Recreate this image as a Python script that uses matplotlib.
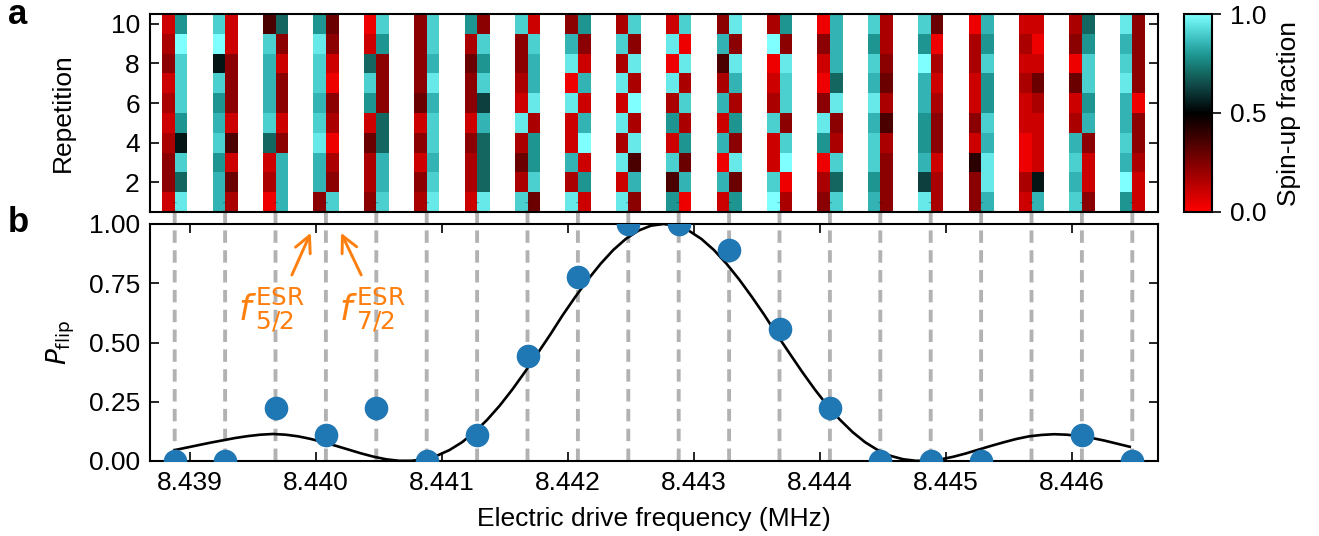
import numpy as np
import matplotlib
matplotlib.use('Agg')
import matplotlib.pyplot as plt
from matplotlib.colors import LinearSegmentedColormap
from matplotlib.patches import ConnectionPatch

plt.rcParams['font.family'] = ['Liberation Sans', 'DejaVu Sans']
plt.rcParams['axes.linewidth'] = 1.5

# drive frequencies (MHz), one per dashed line
drive_freq = [8.43888, 8.43928, 8.43968, 8.44008, 8.44048, 8.44088, 8.44128,
              8.44168, 8.44208, 8.44248, 8.44288, 8.44328, 8.44368, 8.44408,
              8.44448, 8.44488, 8.44528, 8.44568, 8.44608, 8.44648]
p_flip = [0, 0, 0.222, 0.111, 0.222, 0, 0.111, 0.444, 0.778, 1, 1, 0.889, 0.556,
          0.222, 0, 0, 0, np.nan, 0.111, 0]

# grey levels seen in the heatmap
spin_levels = {'R1': 0.033, 'R2': 0.10, 'R3': 0.167, 'R4': 0.228, 'R5': 0.29,
               'R6': 0.353, 'R7': 0.416,
               'C1': 1.0, 'C2': 0.955, 'C3': 0.906, 'C4': 0.851, 'C5': 0.792,
               'C6': 0.70, 'C7': 0.624, 'C8': 0.541}

# repetition 10 down to 1, left column of each pair
spin_left = [
    'R2 R3 R4 R2 R3 R2 R3 R4 R4 R2',
    'C3 C1 C8 C3 C5 C4 C3 C5 C4 C4',
    'R6 C3 C4 C4 C4 C3 C6 R2 R3 R1',
    'C5 C2 C3 C3 C4 C3 C2 C4 C4 R4',
    'R1 R2 C6 C3 C5 R2 R5 R3 R3 R4',
    'R4 R4 R4 R4 R5 R2 R4 R2 R4 R3',
    'C5 R3 R5 R4 R4 R2 R4 R3 R3 R2',
    'C3 R4 R4 R3 R2 C2 R3 R5 R3 C3',
    'R4 C4 C2 R1 C2 R2 R2 C4 R3 C2',
    'R3 C3 R3 C2 R2 C2 R3 C2 R2 C2',
    'R2 C2 R1 C2 R3 C5 R2 C3 R6 C5',
    'R4 C4 R6 R3 C4 R2 C4 R1 C4 R2',
    'R3 C1 R1 R2 R3 C3 R2 R2 C3 C1',
    'R1 R4 R2 R1 R4 C2 C5 R1 R3 R4',
    'C3 C5 C3 C4 C2 C4 C3 C3 C5 C4',
    'C3 C5 C1 C4 C4 C5 C5 C4 C7 C2',
    'R1 R3 R3 R2 R2 R4 R2 R7 R4 R4',
    'R2 R3 R2 R3 R2 R2 R1 R1 R3 R2',
    'R3 R4 R1 R5 R2 R3 C4 C3 C4 C3',
    'C2 C4 C3 C2 C4 C4 C3 C4 C1 C5',
]
# right column of each pair
spin_right = [
    'C5 C1 C3 C3 C3 C5 C8 C3 C6 C2',
    'R2 R2 R4 R4 R4 R2 R6 R2 R5 R3',
    'C6 R4 R2 R4 R4 R2 R4 C4 C4 C4',
    'R5 R4 R2 R1 R4 R3 R1 R3 R4 C3',
    'C3 C5 R4 R4 R4 C6 C6 C4 C4 C3',
    'C3 C3 C4 C2 C4 C3 C3 C4 C3 C2',
    'R4 C3 C5 C3 C7 C4 C6 C6 C6 C2',
    'R2 C3 C4 C4 C2 R3 C5 C5 C3 R5',
    'C5 R4 R2 C4 R2 C4 C1 R2 C5 R2',
    'C3 R4 C2 R3 C1 R3 C2 R6 C4 R4',
    'C3 R1 C2 R3 C3 R3 C5 R5 C4 R1',
    'C2 R4 C2 C4 R3 C5 R4 C2 R5 C5',
    'C5 R4 C2 C3 C3 R4 C3 C1 R1 R3',
    'C4 C4 C4 C6 C2 R4 R3 C3 C6 C3',
    'R3 R3 R4 R5 R3 R6 R3 R4 R4 R4',
    'R5 R1 R3 R2 R3 R4 R4 R2 R3 R3',
    'C4 C5 C3 C5 C5 C3 C4 C2 C2 C4',
    'R2 R1 R2 R5 R3 R2 R2 R2 C8 C4',
    'C6 C5 C3 C3 C5 C4 R4 R2 R2 R4',
    'R4 R4 R4 R4 R1 R4 R4 R3 R2 R2',
]

# fitted curve, 8.43888 to 8.44646 MHz, centre 8.44276
curve_freq = [8.43888, 8.43896, 8.43906, 8.43916, 8.43926, 8.43936, 8.43946, 8.43956,
              8.43966, 8.43976, 8.43986, 8.43996, 8.44006, 8.44016, 8.44026, 8.44036,
              8.44046, 8.44056, 8.44066, 8.44076, 8.44086, 8.44096, 8.44106, 8.44116,
              8.44126, 8.44136, 8.44146, 8.44156, 8.44166, 8.44176, 8.44186, 8.44196,
              8.44206, 8.44216, 8.44226, 8.44236, 8.44246, 8.44256, 8.44266, 8.44276,
              8.44286, 8.44296, 8.44306, 8.44316, 8.44326, 8.44336, 8.44346, 8.44356,
              8.44366, 8.44376, 8.44386, 8.44396, 8.44406, 8.44416, 8.44426, 8.44436,
              8.44446, 8.44456, 8.44466, 8.44476, 8.44486, 8.44496, 8.44506, 8.44516,
              8.44526, 8.44536, 8.44546, 8.44556, 8.44566, 8.44576, 8.44586, 8.44596,
              8.44606, 8.44616, 8.44626, 8.44636, 8.44646]
curve_p = [0.046, 0.055, 0.066, 0.077, 0.087, 0.097, 0.105, 0.111,
           0.114, 0.111, 0.104, 0.093, 0.079, 0.064, 0.048, 0.032,
           0.018, 0.007, 0.001, 0.001, 0.0075, 0.022, 0.046, 0.079,
           0.122, 0.174, 0.234, 0.302, 0.376, 0.454, 0.533, 0.616,
           0.693, 0.766, 0.832, 0.890, 0.937, 0.972, 0.993, 1.0,
           0.993, 0.972, 0.937, 0.890, 0.832, 0.766, 0.693, 0.616,
           0.533, 0.454, 0.376, 0.302, 0.234, 0.174, 0.122, 0.079,
           0.046, 0.022, 0.0075, 0.001, 0.001, 0.007, 0.018, 0.032,
           0.048, 0.064, 0.079, 0.093, 0.104, 0.110, 0.113, 0.111,
           0.105, 0.097, 0.086, 0.073, 0.060]

W, H = 1319, 536


def px_axes(x0, y0, x1, y1):
    # pixel box of the picture, y from the top
    return fig.add_axes([x0 / W, 1 - y1 / H, (x1 - x0) / W, (y1 - y0) / H])


fig = plt.figure(figsize=(W / 100, H / 100), dpi=100)
ax_a = px_axes(149.5, 14, 1157.5, 212)
ax_b = px_axes(149.5, 224, 1157.5, 461)
cax = px_axes(1184, 14, 1211.5, 212)

cmap = LinearSegmentedColormap.from_list('spin', [
    (0.0, '#ff0000'), (0.5, '#000000'), (0.624, '#0e3f3f'), (0.70, '#146660'),
    (0.792, '#1e9590'), (0.851, '#33b3b3'), (0.906, '#4ccfcf'), (0.955, '#66e8e8'),
    (1.0, '#7fffff')], N=256)

# 80 bins of 0.1 kHz, only the two next to each drive frequency are filled
grid = np.full((10, 80), np.nan)
for i in range(20):
    grid[:, 4 * i + 1] = [spin_levels[c] for c in spin_left[i].split()][::-1]
    grid[:, 4 * i + 2] = [spin_levels[c] for c in spin_right[i].split()][::-1]
x_edges = drive_freq[0] - 0.0002 + 0.0001 * np.arange(81)
y_edges = np.arange(0.5, 11)
mesh = ax_a.pcolormesh(x_edges, y_edges, grid, cmap=cmap, vmin=0, vmax=1)
ax_a.set_xlim(x_edges[0], x_edges[-1])
ax_a.set_ylim(0.5, 10.5)
ax_a.set_xticks([])
ax_a.set_yticks([2, 4, 6, 8, 10])
ax_a.tick_params(axis='y', direction='in', right=True, length=6.5, width=1.2, labelsize=19, pad=7)
ax_a.set_ylabel('Repetition', fontsize=19)
ax_a.yaxis.set_label_coords(-0.074, 0.5)

for f in drive_freq:
    con = ConnectionPatch(xyA=(f, 0), coordsA=ax_b.transData, xyB=(f, 1), coordsB=ax_a.transData,
                          color='k', alpha=0.3, lw=2.8, ls=(0, (3.2, 1.9)), capstyle='butt',
                          zorder=1, clip_on=False)
    ax_b.add_artist(con)

ax_b.plot(curve_freq, curve_p, color='k', lw=1.9, zorder=2)
ax_b.plot(drive_freq, p_flip, 'o', color='#1f77b4', ms=17, mew=0, zorder=3)
ax_b.set_xlim(x_edges[0], x_edges[-1])
ax_b.set_ylim(0, 1)
ax_b.set_xticks([8.439, 8.440, 8.441, 8.442, 8.443, 8.444, 8.445, 8.446])
ax_b.set_xticklabels(['8.439', '8.440', '8.441', '8.442', '8.443', '8.444', '8.445', '8.446'])
ax_b.set_yticks([0, 0.25, 0.5, 0.75, 1])
ax_b.set_yticklabels(['0.00', '0.25', '0.50', '0.75', '1.00'])
ax_b.tick_params(axis='both', direction='in', top=True, right=True, length=6.5, width=1.2, labelsize=19)
ax_b.tick_params(axis='x', pad=7)
ax_b.tick_params(axis='y', pad=7)
ax_b.set_xlabel('Electric drive frequency (MHz)', fontsize=19)
ax_b.xaxis.set_label_coords(0.5, -0.193)
ax_b.set_ylabel(r'$P_{\mathrm{flip}}$', fontsize=19, math_fontfamily='dejavusans')
ax_b.yaxis.set_label_coords(-0.072, 0.5)

orange = '#ff7f0e'
ax_b.annotate('', xy=(8.43996, 0.963), xytext=(8.43981, 0.785),
              arrowprops=dict(arrowstyle='->', color=orange, lw=2.1, mutation_scale=29, shrinkA=0, shrinkB=0))
ax_b.annotate('', xy=(8.44020, 0.963), xytext=(8.44036, 0.785),
              arrowprops=dict(arrowstyle='->', color=orange, lw=2.1, mutation_scale=29, shrinkA=0, shrinkB=0))
for x, sub in [(238, '5/2'), (339, '7/2')]:
    fig.text(x / W, 1 - 320 / H, r'$f$', color=orange, fontsize=25.5, math_fontfamily='dejavusans')
    fig.text((x + 17) / W, 1 - 320 / H, r'$_{%s}^{\mathrm{ESR}}$' % sub, color=orange, fontsize=25.5,
             math_fontfamily='dejavusans')

cb = fig.colorbar(mesh, cax=cax)
cb.set_ticks([0, 0.5, 1])
cb.ax.tick_params(direction='out', length=6.5, width=1.2, labelsize=19, pad=7)
cb.outline.set_linewidth(1.5)
cb.set_label('Spin-up fraction', fontsize=19)
cb.ax.yaxis.set_label_coords(3.38, 0.5)

fig.text(8 / W, 1 - 24 / H, 'a', fontsize=25, fontweight='bold')
fig.text(8 / W, 1 - 232 / H, 'b', fontsize=25, fontweight='bold')

fig.savefig('out.png', dpi=100)
